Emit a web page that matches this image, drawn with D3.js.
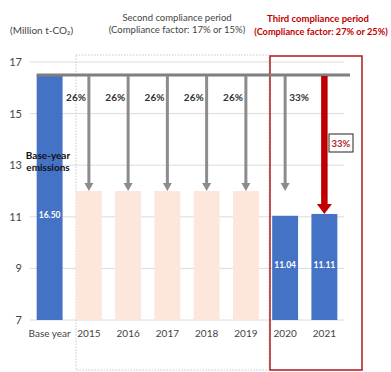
<!DOCTYPE html>
<html>
<head>
<meta charset="utf-8">
<script src="https://cdn.jsdelivr.net/npm/d3@7/dist/d3.min.js"></script>
<style>
  html, body { margin: 0; padding: 0; background: #fff; }
  svg { display: block; font-family: Lato, "Liberation Sans", sans-serif; }
</style>
</head>
<body>
<svg id="chart" width="391" height="372"></svg>
<script>
// Emissions (million t-CO2) by period
const categories = ["Base year", "2015", "2016", "2017", "2018", "2019", "2020", "2021"];
const emissions  = [16.50, 12.0, 12.0, 12.0, 12.0, 12.0, 11.04, 11.11];
const barKind    = ["actual", "cap", "cap", "cap", "cap", "cap", "actual", "actual"];
const valueLabels = ["16.50", null, null, null, null, null, "11.04", "11.11"];
// Reduction from base year shown by the arrows
const reductionPct = [null, 26, 26, 26, 26, 26, 33, 33];
const capLevel = 12.0;
const baseLevel = 16.50;
const yTicks = [7, 9, 11, 13, 15, 17];

const svg = d3.select("#chart");

const y = d3.scaleLinear().domain([7, 17]).range([320, 62]);
const x = d3.scaleBand().domain(categories).range([30, 344])
  .paddingInner(0.34).paddingOuter(0.17);
const cx = c => x(c) + x.bandwidth() / 2;

// gridlines
svg.append("g").selectAll("line").data(yTicks).join("line")
  .attr("x1", 30).attr("x2", 344)
  .attr("y1", d => y(d)).attr("y2", d => y(d))
  .attr("stroke", "#dcdcdc").attr("stroke-width", 1);

// y axis labels
const yAxis = d3.axisLeft(y).tickValues(yTicks).tickSize(0).tickPadding(0);
svg.append("g").attr("transform", "translate(22,0)").call(yAxis)
  .call(g => g.select(".domain").remove())
  .call(g => g.selectAll("text").attr("fill", "#444").attr("font-size", 11)
    .attr("font-family", "Lato, sans-serif"));

// compliance period frames
svg.append("rect").attr("x", 76).attr("y", 55).attr("width", 193).attr("height", 315)
  .attr("fill", "none").attr("stroke", "#c8c8c8").attr("stroke-width", 1)
  .attr("stroke-dasharray", "1.5,1.5");
svg.append("rect").attr("x", 270).attr("y", 56).attr("width", 92).attr("height", 314)
  .attr("fill", "none").attr("stroke", "#b3262b").attr("stroke-width", 1.6);

// bars
svg.append("g").selectAll("rect").data(categories).join("rect")
  .attr("x", d => x(d)).attr("width", x.bandwidth())
  .attr("y", (d, i) => y(emissions[i]))
  .attr("height", (d, i) => y(7) - y(emissions[i]))
  .attr("fill", (d, i) => barKind[i] === "cap" ? "#fde7dc" : "#4472c4");

// base-year line
svg.append("line").attr("x1", x("Base year")).attr("x2", 350)
  .attr("y1", y(baseLevel)).attr("y2", y(baseLevel))
  .attr("stroke", "#7f7f7f").attr("stroke-width", 3);

// arrows
function arrow(xPos, yFrom, yTo, color, w, headW, headH) {
  svg.append("line").attr("x1", xPos).attr("x2", xPos)
    .attr("y1", yFrom).attr("y2", yTo - headH + 1)
    .attr("stroke", color).attr("stroke-width", w);
  svg.append("path")
    .attr("d", `M${xPos - headW / 2},${yTo - headH} L${xPos + headW / 2},${yTo - headH} L${xPos},${yTo} Z`)
    .attr("fill", color);
}
categories.forEach((c, i) => {
  if (i === 0) return;
  if (c === "2021") {
    arrow(cx(c), y(baseLevel) + 1, y(emissions[i]), "#c00000", 6.5, 15, 10);
  } else {
    arrow(cx(c), y(baseLevel) + 1, y(capLevel), "#8c8c8c", 3, 9, 8);
  }
});

// reduction labels
categories.forEach((c, i) => {
  if (reductionPct[i] == null || c === "2021") return;
  const right = c === "2020";
  svg.append("text")
    .attr("x", right ? cx(c) + 4 : cx(c) - 3)
    .attr("y", 101)
    .attr("text-anchor", right ? "start" : "end")
    .attr("font-size", 10).attr("font-weight", "bold").attr("fill", "#333")
    .text(reductionPct[i] + "%");
});
// boxed label on the 2021 arrow
svg.append("rect").attr("x", 329).attr("y", 134).attr("width", 24).attr("height", 18)
  .attr("fill", "#fff").attr("stroke", "#222").attr("stroke-width", 1);
svg.append("text").attr("x", 341).attr("y", 147).attr("text-anchor", "middle")
  .attr("font-size", 9.5).attr("font-weight", "bold").attr("fill", "#b3262b")
  .text(reductionPct[7] + "%");

// value labels inside bars
categories.forEach((c, i) => {
  if (!valueLabels[i]) return;
  svg.append("text").attr("x", cx(c)).attr("y", c === "Base year" ? 218 : 268)
    .attr("text-anchor", "middle").attr("font-size", 8.5).attr("font-weight", "bold")
    .attr("fill", "#fff").text(valueLabels[i]);
});
svg.append("text").attr("x", 48).attr("y", 159).attr("text-anchor", "middle")
  .attr("font-size", 10).attr("font-weight", "bold").attr("fill", "#111").text("Base-year");
svg.append("text").attr("x", 48).attr("y", 171).attr("text-anchor", "middle")
  .attr("font-size", 10).attr("font-weight", "bold").attr("fill", "#111").text("emissions");

// x axis labels
const xAxis = d3.axisBottom(x).tickSize(0).tickPadding(0);
svg.append("g").attr("transform", "translate(0,330)").call(xAxis)
  .call(g => g.select(".domain").remove())
  .call(g => g.selectAll("text").attr("fill", "#444").attr("font-size", 10)
    .attr("font-family", "Lato, sans-serif"));

// headings
svg.append("text").attr("x", 10).attr("y", 34).attr("font-size", 10).attr("fill", "#444")
  .text("(Million t-CO₂)");
svg.append("text").attr("x", 177).attr("y", 21).attr("text-anchor", "middle")
  .attr("font-size", 9.5).attr("fill", "#444").text("Second compliance period");
svg.append("text").attr("x", 177).attr("y", 33).attr("text-anchor", "middle")
  .attr("font-size", 9.5).attr("fill", "#444").text("(Compliance factor: 17% or 15%)");
svg.append("text").attr("x", 318).attr("y", 22).attr("text-anchor", "middle")
  .attr("font-size", 9.5).attr("font-weight", "bold").attr("fill", "#c00000").text("Third compliance period");
svg.append("text").attr("x", 321).attr("y", 35).attr("text-anchor", "middle")
  .attr("font-size", 9.2).attr("font-weight", "bold").attr("fill", "#c00000").text("(Compliance factor: 27% or 25%)");
</script>
</body>
</html>
